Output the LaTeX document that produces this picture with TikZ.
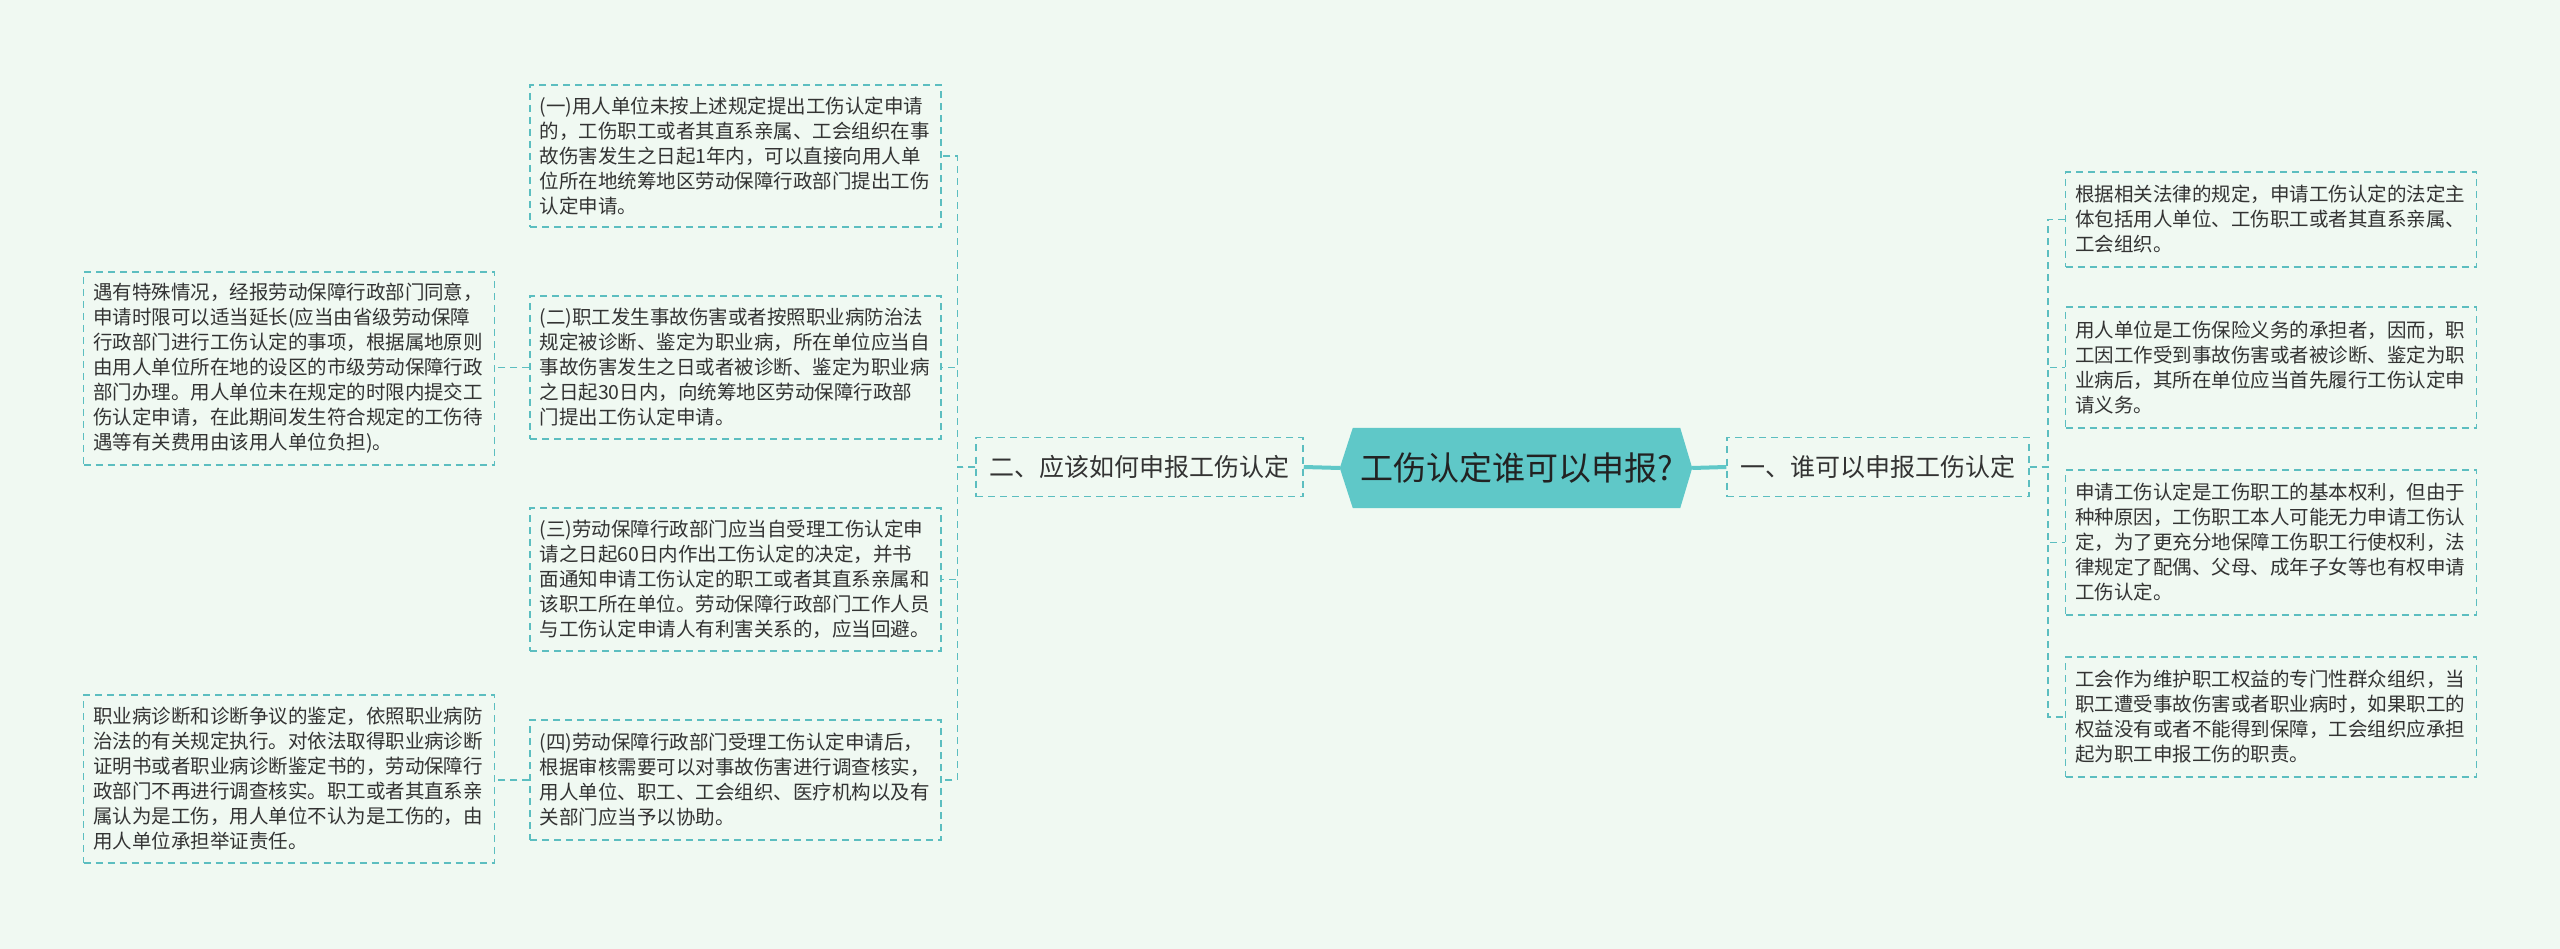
\documentclass[tikz,border=0pt]{standalone}
\usepackage{fontspec}
\setmainfont{Noto Sans CJK SC}
\usetikzlibrary{backgrounds}
\definecolor{bgc}{RGB}{240,249,242}
\definecolor{hubc}{RGB}{95,200,200}
\definecolor{linec}{RGB}{92,190,192}
\definecolor{txtc}{RGB}{51,51,51}
\definecolor{hubtxt}{RGB}{34,34,34}
\tikzset{
  leaf/.style={draw=linec, line width=1.5pt, dash pattern=on 7pt off 5pt,
    text width=392pt, inner xsep=9.5pt, inner ysep=0pt, align=left, text=txtc,
    font={\fontsize{19.5pt}{25pt}\selectfont}},
  branch/.style={draw=linec, line width=1.5pt, dash pattern=on 7pt off 5pt,
    inner sep=0pt, minimum height=59pt, text=txtc,
    font={\fontsize{25pt}{30pt}\selectfont}},
  hub/.style={inner sep=0pt, minimum width=327pt, minimum height=80pt,
    text=hubtxt, font={\fontsize{33pt}{38pt}\selectfont}},
  conn/.style={draw=linec, line width=1.5pt, dash pattern=on 7pt off 5pt},
  thick conn/.style={draw=hubc, line width=4pt}
}
\begin{document}
\begin{tikzpicture}[x=1pt,y=-1pt]
\begin{scope}[on background layer]
  \fill[bgc] (0,0) rectangle (2560,949);
\end{scope}
\useasboundingbox (0,0) rectangle (2560,949);

% hub
\node[hub] (c) at (1516.5,468) {工伤认定谁可以申报?};
\coordinate (cl) at ([xshift=-13pt]c.west);
\coordinate (cr) at ([xshift=12pt]c.east);

% level 1
\node[branch, minimum width=327pt] (L) at (1139.5,467) {二、应该如何申报工伤认定};
\node[branch, minimum width=302pt] (R) at (1878,467) {一、谁可以申报工伤认定};

\begin{scope}[on background layer]
  \draw[thick conn] (cl) -- (L.east);
  \draw[thick conn] (cr) -- (R.west);
  \fill[hubc] (c.north west) -- (cl) -- (c.south west) -- (c.south east) -- (cr) -- (c.north east) -- cycle;
\end{scope}

% left children
\node[leaf, minimum height=142pt] (b1) at (735.5,156) {(一)用人单位未按上述规定提出工伤认定申请\\的，工伤职工或者其直系亲属、工会组织在事\\故伤害发生之日起1年内，可以直接向用人单\\位所在地统筹地区劳动保障行政部门提出工伤\\认定申请。};
\node[leaf, minimum height=143pt] (b2) at (735.5,367.5) {(二)职工发生事故伤害或者按照职业病防治法\\规定被诊断、鉴定为职业病，所在单位应当自\\事故伤害发生之日或者被诊断、鉴定为职业病\\之日起30日内，向统筹地区劳动保障行政部\\门提出工伤认定申请。};
\node[leaf, minimum height=143pt] (b3) at (735.5,579.5) {(三)劳动保障行政部门应当自受理工伤认定申\\请之日起60日内作出工伤认定的决定，并书\\面通知申请工伤认定的职工或者其直系亲属和\\该职工所在单位。劳动保障行政部门工作人员\\与工伤认定申请人有利害关系的，应当回避。};
\node[leaf, minimum height=120pt] (b4) at (735.5,780) {(四)劳动保障行政部门受理工伤认定申请后，\\根据审核需要可以对事故伤害进行调查核实，\\用人单位、职工、工会组织、医疗机构以及有\\关部门应当予以协助。};

% far-left children
\node[leaf, minimum height=193pt] (A) at (289,368.5) {遇有特殊情况，经报劳动保障行政部门同意，\\申请时限可以适当延长(应当由省级劳动保障\\行政部门进行工伤认定的事项，根据属地原则\\由用人单位所在地的设区的市级劳动保障行政\\部门办理。用人单位未在规定的时限内提交工\\伤认定申请，在此期间发生符合规定的工伤待\\遇等有关费用由该用人单位负担)。};
\node[leaf, minimum height=168pt] (B) at (289,779) {职业病诊断和诊断争议的鉴定，依照职业病防\\治法的有关规定执行。对依法取得职业病诊断\\证明书或者职业病诊断鉴定书的，劳动保障行\\政部门不再进行调查核实。职工或者其直系亲\\属认为是工伤，用人单位不认为是工伤的，由\\用人单位承担举证责任。};

% right children
\node[leaf, minimum height=95pt] (r1) at (2271,219.5) {根据相关法律的规定，申请工伤认定的法定主\\体包括用人单位、工伤职工或者其直系亲属、\\工会组织。};
\node[leaf, minimum height=121pt] (r2) at (2271,367.5) {用人单位是工伤保险义务的承担者，因而，职\\工因工作受到事故伤害或者被诊断、鉴定为职\\业病后，其所在单位应当首先履行工伤认定申\\请义务。};
\node[leaf, minimum height=145pt] (r3) at (2271,542.5) {申请工伤认定是工伤职工的基本权利，但由于\\种种原因，工伤职工本人可能无力申请工伤认\\定，为了更充分地保障工伤职工行使权利，法\\律规定了配偶、父母、成年子女等也有权申请\\工伤认定。};
\node[leaf, minimum height=120pt] (r4) at (2271,717) {工会作为维护职工权益的专门性群众组织，当\\职工遭受事故伤害或者职业病时，如果职工的\\权益没有或者不能得到保障，工会组织应承担\\起为职工申报工伤的职责。};

% connectors
\foreach \n in {b1,b2,b3,b4} \draw[conn] (L.west) -- ++(-18,0) |- (\n.east);
\foreach \n in {r1,r2,r3,r4} \draw[conn] (R.east) -- ++(18,0) |- (\n.west);
\draw[conn] (b2.west) -- (A.east |- b2.west);
\draw[conn] (b4.west) -- (B.east |- b4.west);
\end{tikzpicture}
\end{document}
